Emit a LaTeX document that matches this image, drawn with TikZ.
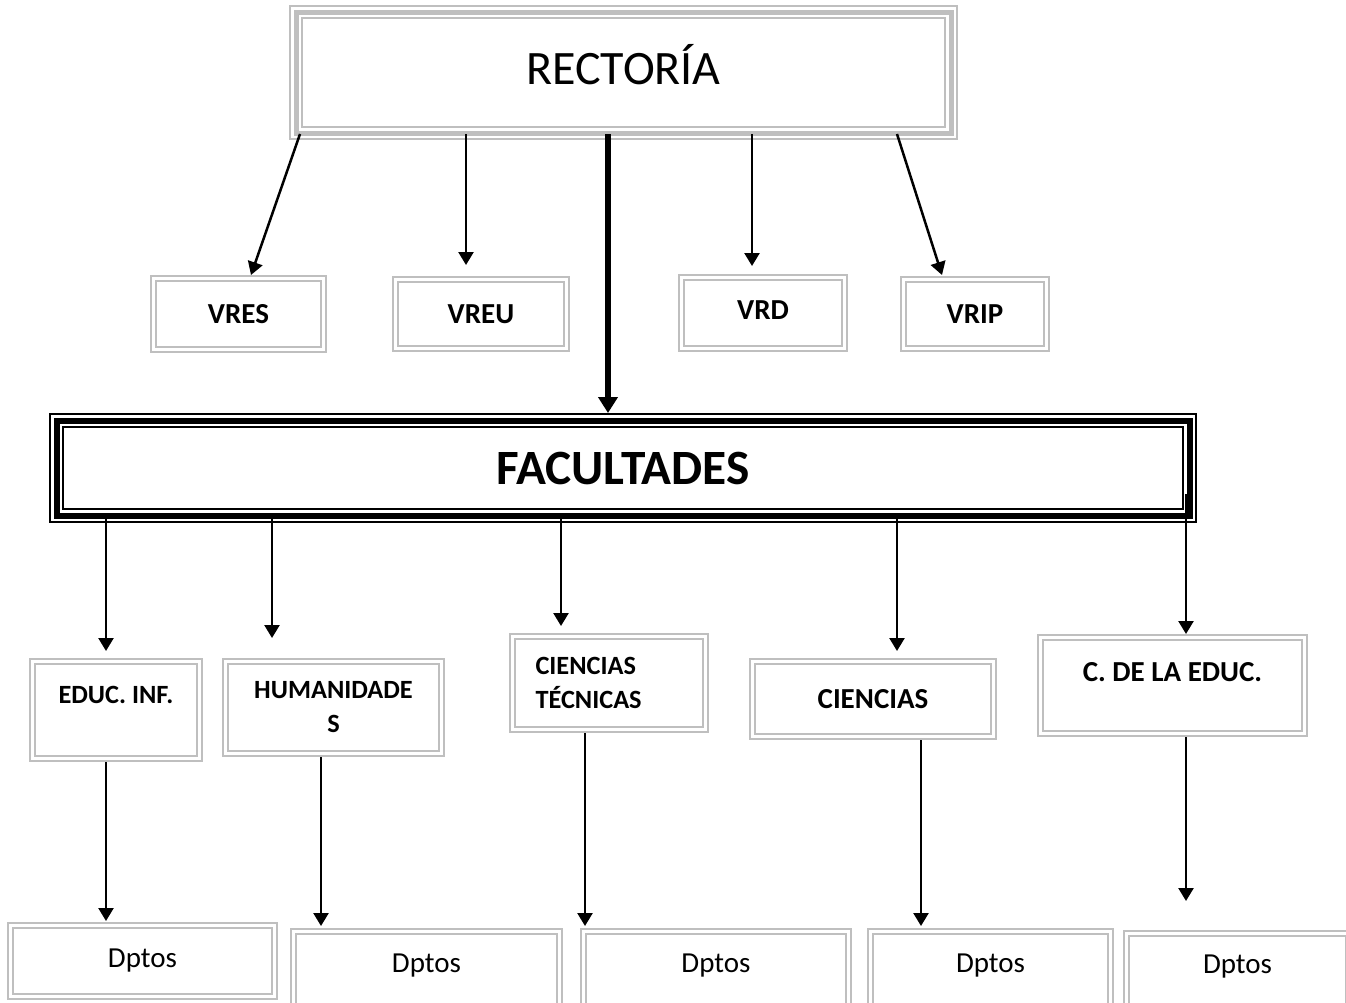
\documentclass[tikz,border=0pt]{standalone}
\usepackage{fontspec}
\setmainfont{Carlito}
\usetikzlibrary{arrows.meta, calc, math}

\newdimen\px \px=0.75pt
\newcommand{\bigtxt}{\fontsize{36}{43}\selectfont}
\newcommand{\factitle}{\fontsize{37}{44}\selectfont\bfseries}
\newcommand{\boxtxt}{\fontsize{21.75}{26}\selectfont\bfseries}
\newcommand{\facttxt}{\fontsize{19.75}{25.5}\selectfont\bfseries}
\newcommand{\deptxt}{\fontsize{21.75}{26}\selectfont}

\begin{document}
\begin{tikzpicture}[x=0.75pt, y=-0.75pt]
		\tikzmath{
			\grayW   = 7;    %band of the light boxes
			\grayGap = 2.4;  %white line inside it
			\arrW    = 2.5;  %thin connectors
			\mainW   = 6;    %main connector
		}
		\tikzstyle{Base} = [
			text centered,
			fill=white,
			inner sep=0pt
		]
		\tikzstyle{GrayBox} = [
			Base,
			draw=gray!50,
			line width=\grayW\px,
			postaction={draw=white, line width=\grayGap\px}
		]
		\tikzstyle{RectBox} = [
			Base,
			draw=gray!50,
			line width=14\px,
			postaction={draw=white, line width=10\px},
			postaction={draw=gray!50, line width=5\px}
		]
		\tikzstyle{FacBox} = [
			Base,
			draw=black,
			line width=15\px,
			postaction={draw=white, line width=11\px},
			postaction={draw=black, line width=6\px}
		]
		\tikzstyle{Arrow} = [
			->, >={Triangle[width=11.25pt, length=9.75pt]},
			line width=\arrW\px
		]
		\tikzstyle{MainArrow} = [
			->, >={Triangle[width=14.25pt, length=12pt]},
			line width=\mainW\px
		]
		\useasboundingbox (0,0) rectangle (1346,1003);
		\clip (0,0) rectangle (1346,1003);

		%%%%%%%%%%%%%%%%%%%%%%%%%%===---TOP---===%%%%%%%%%%%%%%%%%%%%%%%%%%
		\node (rect) [RectBox, minimum width=655\px, minimum height=121\px, text depth=16\px] at (623.5,72.5) {\bigtxt RECTORÍA};
		%%%%%%%%%%%%%%%%%%%%%%%%%%===---VICERRECTORÍAS---===%%%%%%%%%%%%%%%%%%%%%%%%%%
		\node (vres) [GrayBox, font=\boxtxt, minimum width=170\px, minimum height=71\px] at (238.5,314) {VRES};
		\node (vreu) [GrayBox, font=\boxtxt, minimum width=171\px, minimum height=69\px] at (481,314) {VREU};
		\node (vrd) [GrayBox, font=\boxtxt, minimum width=163\px, minimum height=71\px, text depth=6\px] at (763,313) {VRD};
		\node (vrip) [GrayBox, font=\boxtxt, minimum width=143\px, minimum height=69\px] at (975,314) {VRIP};
		%%%%%%%%%%%%%%%%%%%%%%%%%%===---FACULTADES---===%%%%%%%%%%%%%%%%%%%%%%%%%%
		\node (fac) [FacBox, font=\factitle, minimum width=1133\px, minimum height=95\px] at (623,468) {FACULTADES};
		%%%%%%%%%%%%%%%%%%%%%%%%%%===---THIRD LINE---===%%%%%%%%%%%%%%%%%%%%%%%%%%
		\node (educ) [GrayBox, font=\facttxt, minimum width=167\px, minimum height=97\px, text depth=30\px] at (116,710) {EDUC. INF.};
		\node (hum) [GrayBox, font=\facttxt, align=center, minimum width=216\px, minimum height=92\px] at (333.5,707.5) {HUMANIDADE\\S};
		\node (ct) [GrayBox, font=\facttxt, align=left, text width=147\px, minimum width=193\px, minimum height=93\px] at (609,683) {CIENCIAS\\TÉCNICAS};
		\node (cien) [GrayBox, font=\boxtxt, minimum width=241\px, minimum height=75\px] at (873,699) {CIENCIAS};
		\node (cde) [GrayBox, font=\boxtxt, minimum width=264\px, minimum height=96\px, text depth=27\px] at (1172.5,685.5) {C. DE LA EDUC.};
		%%%%%%%%%%%%%%%%%%%%%%%%%%===---DEPARTAMENTOS---===%%%%%%%%%%%%%%%%%%%%%%%%%%
		\node (d1) [GrayBox, font=\deptxt, minimum width=264\px, minimum height=71\px] at (142.5,961) {Dptos};
		\node (d2) [GrayBox, font=\deptxt, minimum width=266\px, minimum height=75\px, text depth=12\px] at (426.5,969) {Dptos};
		\node (d3) [GrayBox, font=\deptxt, minimum width=265\px, minimum height=75\px, text depth=12\px] at (716,969) {Dptos};
		\node (d4) [GrayBox, font=\deptxt, minimum width=240\px, minimum height=75\px, text depth=12\px] at (990.5,969) {Dptos};
		\node (d5) [GrayBox, font=\deptxt, minimum width=222\px, minimum height=73\px, text depth=12\px] at (1237.5,970) {Dptos};

		%%%%%%%%%%%%%%%%%%%%%%%%%%===---CONNECTORS---===%%%%%%%%%%%%%%%%%%%%%%%%%%
		\draw [Arrow] ($(rect.south)+(-323.5,-6)$) -- ($(vres.north)+(12.5,0)$);
		\draw [Arrow] ($(rect.south)+(-157.5,-6)$) -- ($(vreu.north)+(-15,-11)$);
		\draw [MainArrow] ($(rect.south)+(-15.5,-6)$) -- ($(fac.north)+(-15,0)$);
		\draw [Arrow] ($(rect.south)+(128.5,-6)$) -- ($(vrd.north)+(-11,-8)$);
		\draw [Arrow] ($(rect.south)+(273.5,-6)$) -- ($(vrip.north)+(-33,-1)$);

		\draw [Arrow] ($(fac.south)+(-517,-7)$) -- ($(educ.north)+(-10,-7)$);
		\draw [Arrow] ($(fac.south)+(-351,-7)$) -- ($(hum.north)+(-61.5,-20)$);
		\draw [Arrow] ($(fac.south)+(-62,-7)$) -- ($(ct.north)+(-48,-7)$);
		\draw [Arrow] ($(fac.south)+(274,-7)$) -- ($(cien.north)+(24,-7)$);
		\draw [Arrow] ($(fac.south)+(563,-29)$) -- ($(cde.north)+(13.5,0)$);

		\draw [Arrow] ($(educ.south)+(-10,0)$) -- ($(d1.north)+(-36.5,-1)$);
		\draw [Arrow] ($(hum.south)+(-12.5,0)$) -- ($(d2.north)+(-105.5,-2)$);
		\draw [Arrow] ($(ct.south)+(-24,0)$) -- ($(d3.north)+(-131,-2)$);
		\draw [Arrow] ($(cien.south)+(48,0)$) -- ($(d4.north)+(-69.5,-2)$);
		\draw [Arrow] ($(cde.south)+(13.5,0)$) -- ($(d5.north)+(-51.5,-29)$);
	\end{tikzpicture}
\end{document}
